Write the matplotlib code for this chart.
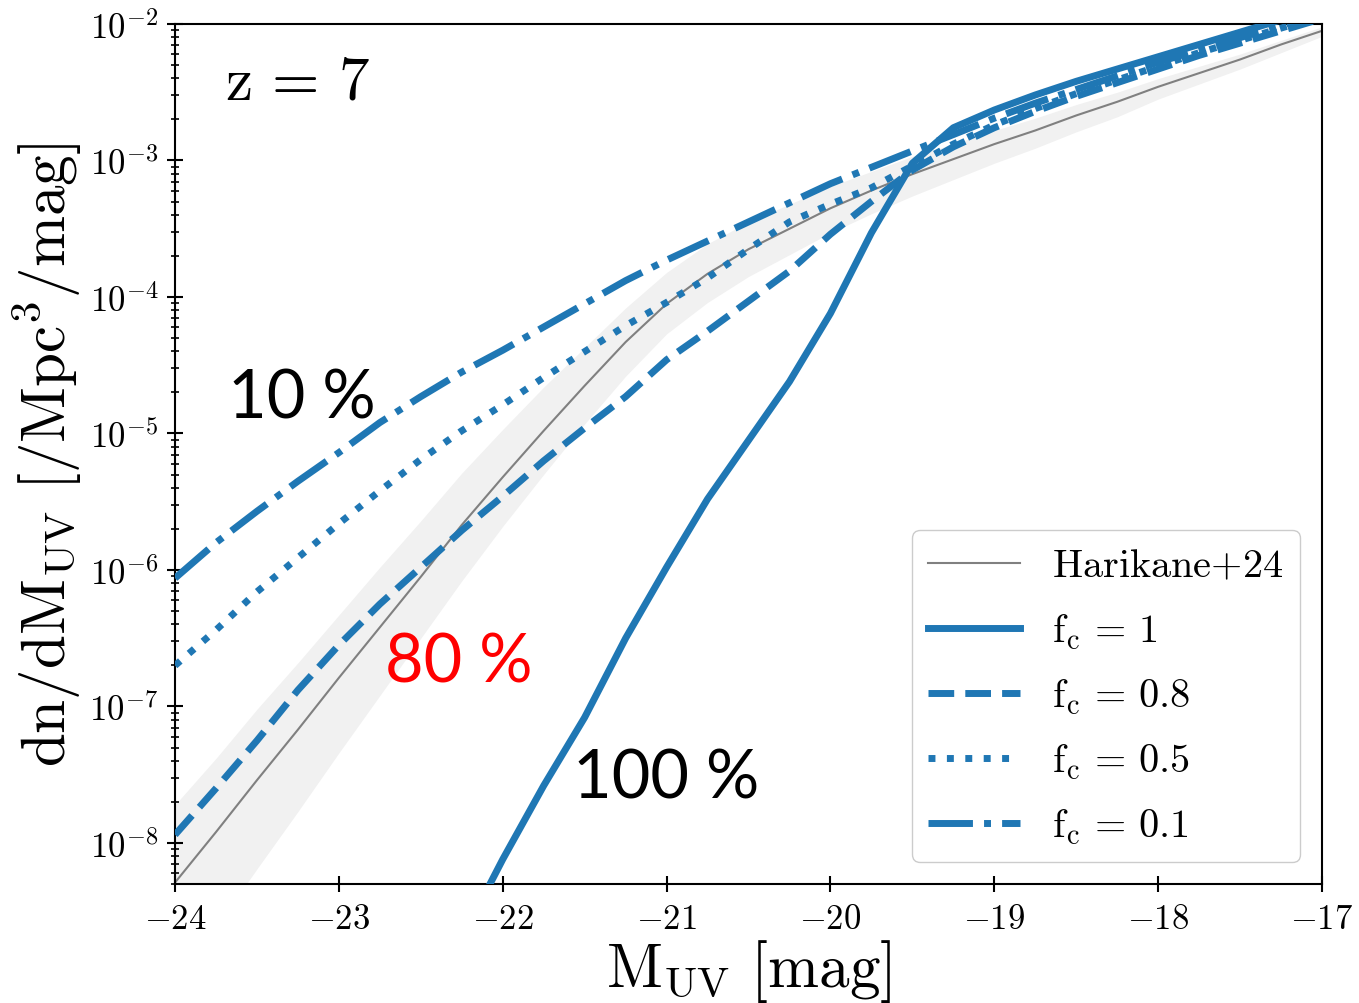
import numpy as np
import matplotlib
matplotlib.use('Agg')
import matplotlib.pyplot as plt
from matplotlib.ticker import FixedLocator, FuncFormatter, LogLocator, NullLocator

plt.rcParams['mathtext.fontset'] = 'cm'
plt.rcParams['axes.linewidth'] = 1.5

# ---------------- data (log10 of dn/dM_UV) ----------------
M_UV = [-24.0, -23.75, -23.5, -23.25, -23.0, -22.75, -22.5, -22.25, -22.0, -21.75,
        -21.5, -21.25, -21.0, -20.75, -20.5, -20.25, -20.0, -19.75, -19.5, -19.25,
        -19.0, -18.75, -18.5, -18.25, -18.0, -17.75, -17.5, -17.25, -17.0]

harikane_log = [-8.29, -7.92, -7.54, -7.17, -6.79, -6.42, -6.05, -5.67, -5.32, -4.98,
                -4.65, -4.33, -4.05, -3.83, -3.65, -3.50, -3.35, -3.22, -3.10, -2.99,
                -2.88, -2.78, -2.67, -2.57, -2.46, -2.36, -2.26, -2.15, -2.05]
harikane_up_log = [-7.72, -7.38, -7.02, -6.68, -6.33, -5.98, -5.64, -5.29, -4.97, -4.66,
                   -4.37, -4.08, -3.82, -3.61, -3.45, -3.32, -3.19, -3.08, -2.97, -2.88,
                   -2.78, -2.69, -2.59, -2.50, -2.40, -2.31, -2.22, -2.12, -2.02]
harikane_lo_log = [-9.04, -8.62, -8.19, -7.77, -7.34, -6.92, -6.50, -6.08, -5.68, -5.30,
                   -4.93, -4.58, -4.27, -4.04, -3.85, -3.69, -3.53, -3.39, -3.26, -3.14,
                   -3.02, -2.91, -2.79, -2.68, -2.55, -2.44, -2.33, -2.21, -2.09]

fc1_log = [-12.6, -12.05, -11.5, -10.95, -10.4, -9.85, -9.30, -8.70, -8.12, -7.58,
           -7.08, -6.50, -5.98, -5.48, -5.05, -4.62, -4.12, -3.53, -3.02, -2.76,
           -2.63, -2.52, -2.42, -2.33, -2.24, -2.15, -2.06, -1.97, -1.88]
fc08_log = [-7.94, -7.60, -7.25, -6.88, -6.55, -6.25, -5.98, -5.71, -5.46, -5.20,
            -4.96, -4.73, -4.46, -4.25, -4.03, -3.81, -3.54, -3.30, -3.07, -2.90,
            -2.76, -2.64, -2.53, -2.43, -2.33, -2.23, -2.14, -2.05, -1.96]
fc05_log = [-6.70, -6.44, -6.16, -5.91, -5.66, -5.42, -5.19, -4.98, -4.79, -4.59,
            -4.40, -4.21, -4.04, -3.86, -3.65, -3.45, -3.32, -3.20, -3.04, -2.88,
            -2.74, -2.62, -2.51, -2.41, -2.31, -2.21, -2.12, -2.03, -1.94]
fc01_log = [-6.06, -5.80, -5.57, -5.35, -5.14, -4.92, -4.73, -4.55, -4.39, -4.22,
            -4.05, -3.88, -3.73, -3.59, -3.45, -3.31, -3.17, -3.05, -2.93, -2.81,
            -2.69, -2.58, -2.48, -2.38, -2.28, -2.19, -2.10, -2.01, -1.92]

x_ticks = [-24, -23, -22, -21, -20, -19, -18, -17]
y_ticks_exp = [-8, -7, -6, -5, -4, -3, -2]

labels = [r'$\mathrm{Harikane{+}24}$', r'$\mathrm{f_c}\,=\,1$', r'$\mathrm{f_c}\,=\,0.8$',
          r'$\mathrm{f_c}\,=\,0.5$', r'$\mathrm{f_c}\,=\,0.1$']

# ---------------- plot ----------------
blue = '#1f77b4'
fig = plt.figure(figsize=(13.59, 10.04), dpi=100)
ax = fig.add_axes([0.1288, 0.1185, 0.8440, 0.8566])

x = np.array(M_UV)
p = lambda a: 10 ** np.array(a)

ax.fill_between(x, p(harikane_lo_log), p(harikane_up_log), color='#f1f1f1', lw=0, zorder=1)
ax.plot(x, p(harikane_log), color='gray', lw=1.5, label=labels[0], zorder=2)
ax.plot(x, p(fc1_log), color=blue, lw=5, ls='-', label=labels[1], zorder=3)
ax.plot(x, p(fc08_log), color=blue, lw=5, ls='--', label=labels[2], zorder=3)
ax.plot(x, p(fc05_log), color=blue, lw=5, ls=':', label=labels[3], zorder=3)
ax.plot(x, p(fc01_log), color=blue, lw=5, ls='-.', label=labels[4], zorder=3)

ax.set_yscale('log')
ax.set_xlim(-24, -17)
ax.set_ylim(5e-9, 1e-2)

ax.xaxis.set_major_locator(FixedLocator(x_ticks))
ax.xaxis.set_minor_locator(NullLocator())
ax.xaxis.set_major_formatter(FuncFormatter(lambda v, pos: r'$%d$' % round(v)))
ax.yaxis.set_major_locator(FixedLocator([10.0 ** e for e in y_ticks_exp]))
ax.yaxis.set_minor_locator(LogLocator(base=10, subs=np.arange(2, 10), numticks=20))
ax.yaxis.set_major_formatter(FuncFormatter(lambda v, pos: r'$10^{%d}$' % round(np.log10(v))))
ax.tick_params(which='major', direction='inout', length=12, width=1.5, labelsize=25, pad=6)
ax.tick_params(which='minor', direction='inout', length=5.5, width=1.2)

ax.set_xlabel(r'$\mathrm{M_{UV}\ [mag]}$', fontsize=44, labelpad=2)
ax.set_ylabel(r'$\mathrm{dn/dM_{UV}\ [/Mpc^3/mag]}$', fontsize=44, labelpad=4)

ax.text(0.0436, 0.913, r'$\mathrm{z}\,=\,7$', transform=ax.transAxes, fontsize=44, va='baseline')
ax.text(0.046, 0.543, '10 %', transform=ax.transAxes, fontsize=48, va='baseline', family='Lato')
ax.text(0.183, 0.235, '80 %', transform=ax.transAxes, fontsize=48, va='baseline', family='Lato', color='red')
ax.text(0.347, 0.101, '100 %', transform=ax.transAxes, fontsize=48, va='baseline', family='Lato')

leg = ax.legend(loc='lower right', fontsize=29, fancybox=True, edgecolor='0.8', framealpha=1,
                handlelength=2.28, labelspacing=0.62, borderaxespad=0.55)

fig.savefig('out.png', dpi=100)
